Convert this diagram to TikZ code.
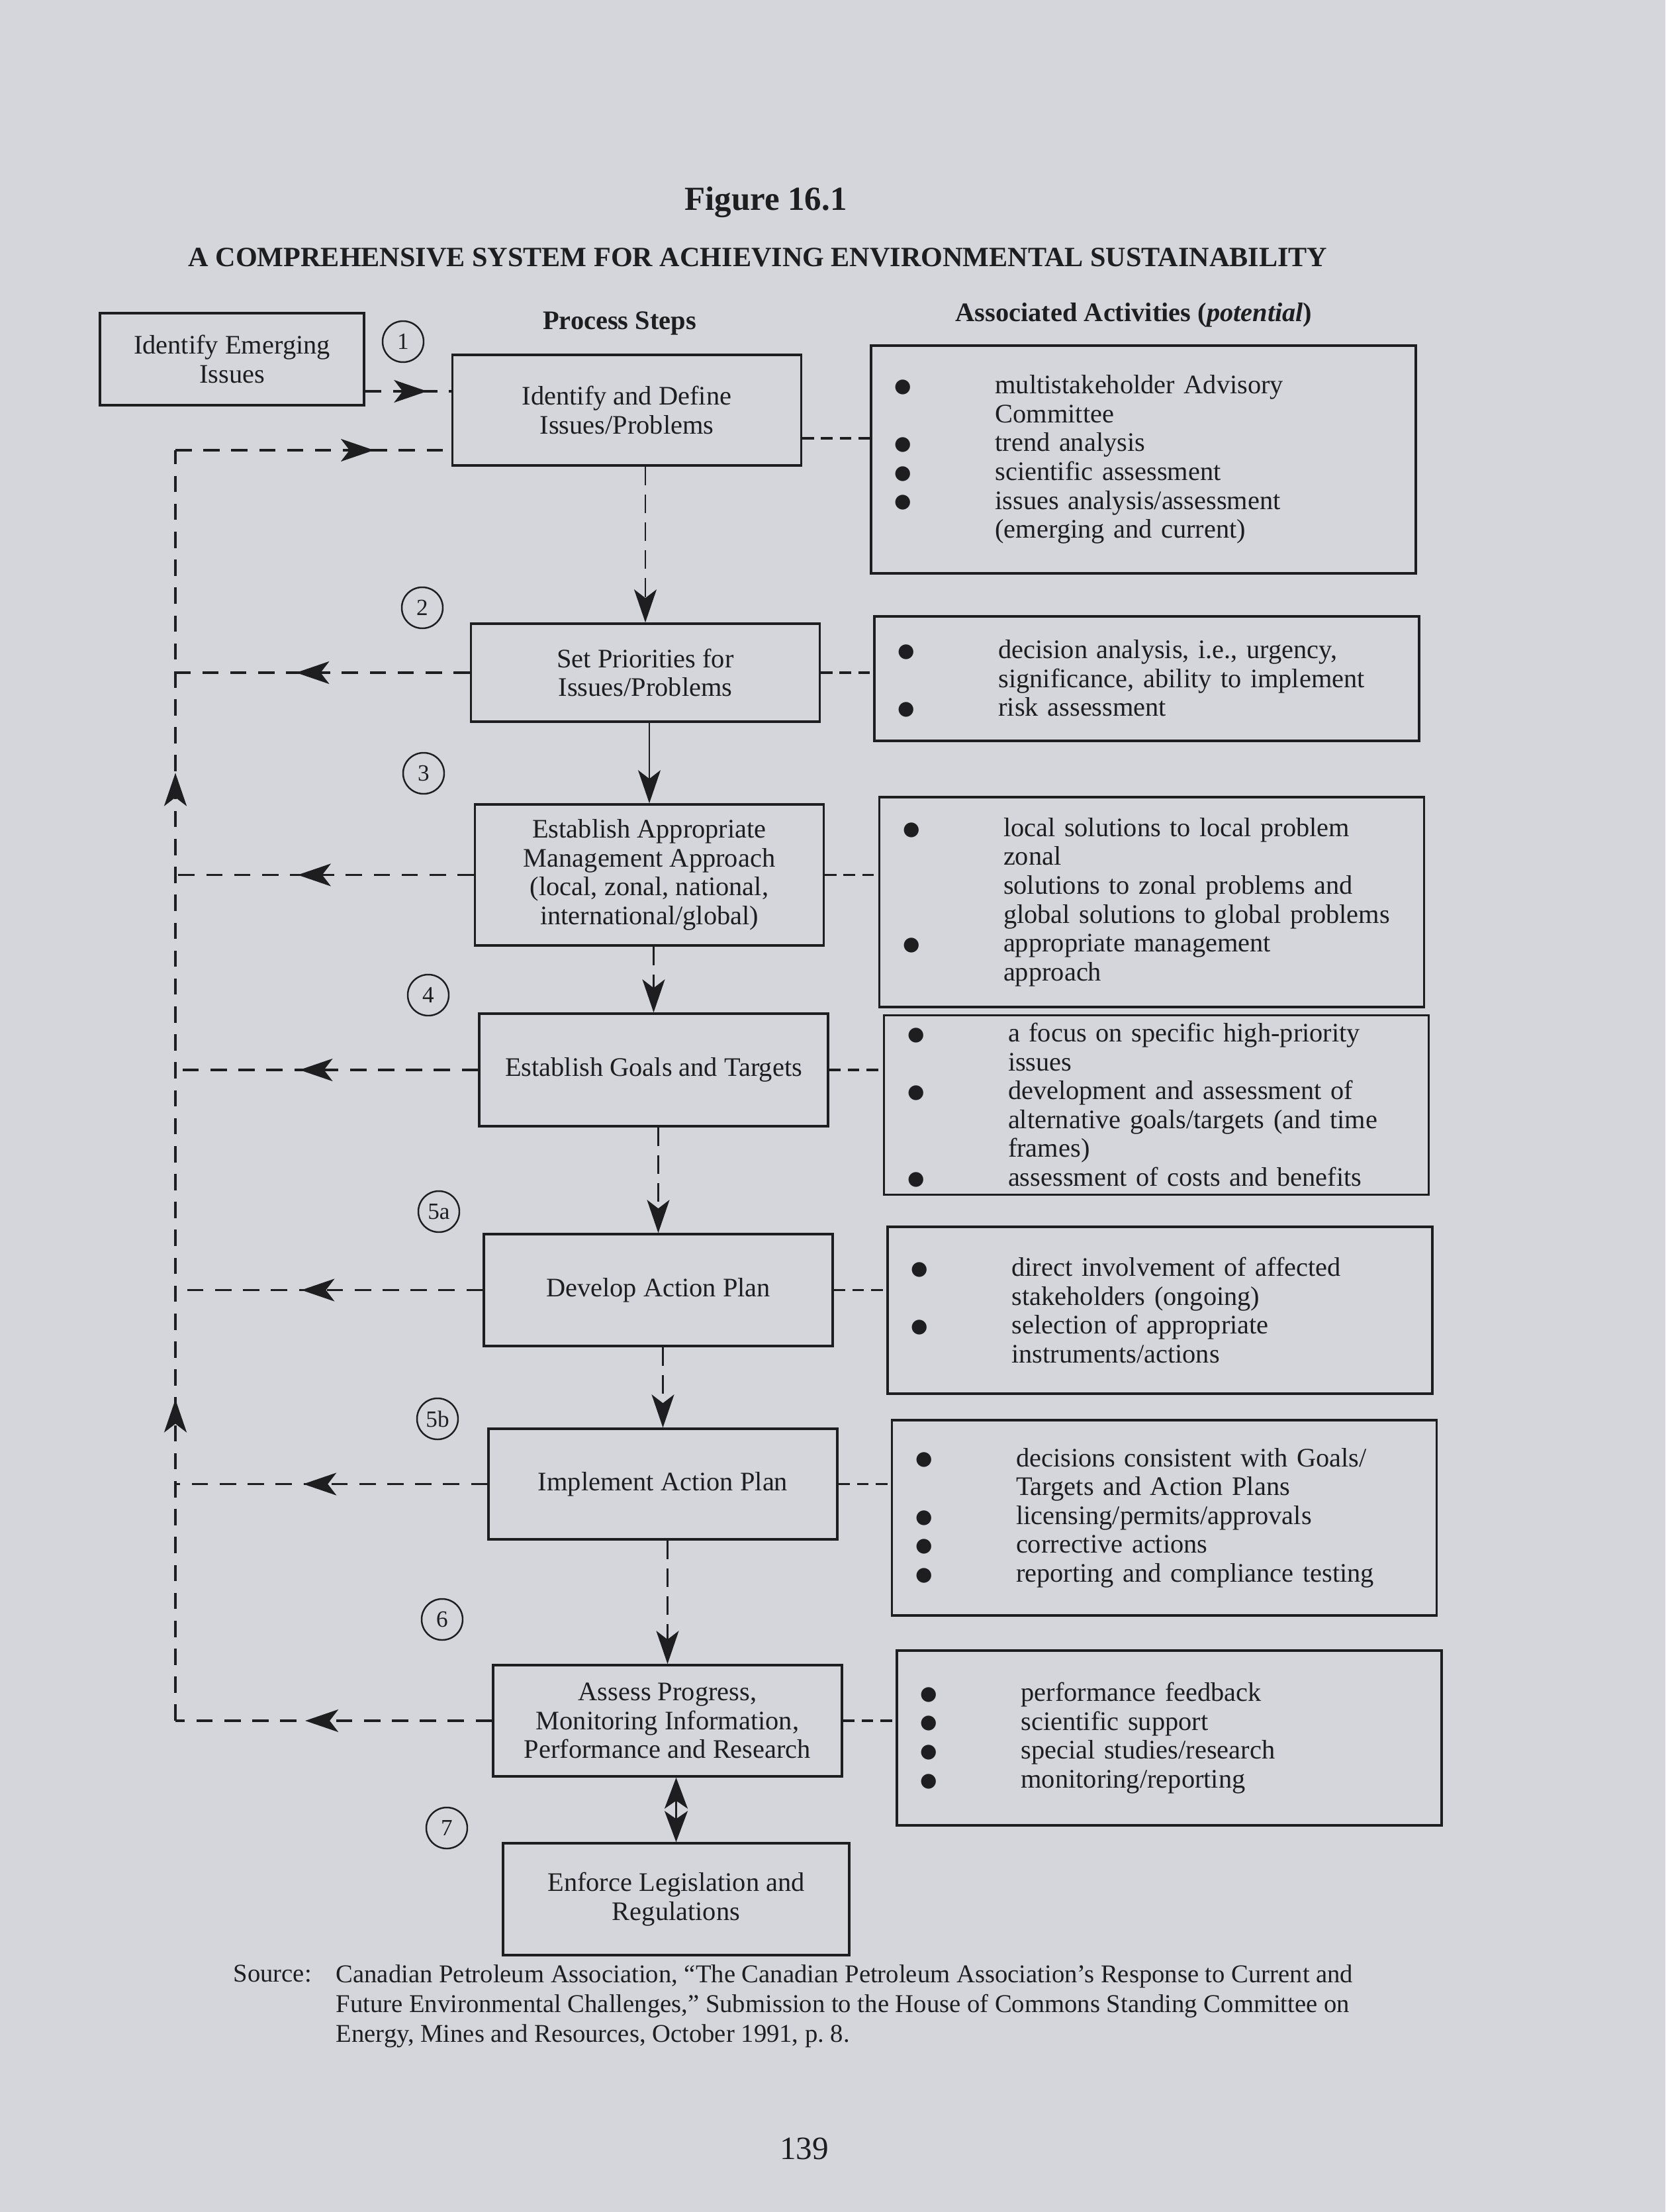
\documentclass[tikz,border=0pt]{standalone}
\usepackage{fontspec}
\setmainfont{Liberation Serif}
\newfontfamily\symfont{DejaVu Sans}
\usepackage{xcolor}
\usetikzlibrary{arrows.meta,positioning,decorations.markings}
\definecolor{page}{RGB}{213,214,220}
\definecolor{ink}{RGB}{30,30,32}
\newcommand{\actbul}{\makebox[1.52cm][l]{\raisebox{0.6pt}{\symfont\fontsize{8.3}{8}\selectfont ●}}}
\newcommand{\actind}{\hspace*{1.52cm}}
\tikzset{
  stepbox/.style={draw,line width=1pt,align=center,minimum width=5.27cm,font=\fontsize{11.5}{12.4}\selectfont},
  actbox/.style={draw,line width=1pt,align=left,text width=7.52cm,inner xsep=0.355cm,font=\fontsize{11.5}{12.4}\selectfont},
  num/.style={draw,circle,line width=0.7pt,minimum size=0.62cm,inner sep=0pt,font=\fontsize{10}{12}\selectfont},
  head/.style={font=\fontsize{11.5}{13}\selectfont\bfseries,anchor=base},
  fbtip/.tip={Stealth[length=5mm,width=3.4mm,inset=1.3mm]},
  flow/.style={line width=0.7pt,-fbtip},
  dflow/.style={flow,dash pattern=on 8pt off 4pt},
  dblarr/.style={line width=0.7pt,{Stealth[length=4.7mm,width=3.5mm,inset=1.2mm]}-{Stealth[length=4.7mm,width=3.5mm,inset=1.2mm]}},
  fb/.style={line width=1pt,dash pattern=on 7pt off 5pt},
  link/.style={line width=1pt,dash pattern=on 5pt off 3pt},
  midarr/.style={postaction={decorate,decoration={markings,mark=at position #1 with {\arrow{fbtip}}}}},
}
\begin{document}
\begin{tikzpicture}[color=ink]
\useasboundingbox (0,0) rectangle (25.16,-33.41);
\fill[page] (0,0) rectangle (25.16,-33.41);

\node[font=\fontsize{14.5}{17}\selectfont\bfseries,anchor=base] (fig) at (11.57,-3.18) {Figure 16.1};
\node[font=\fontsize{12}{14}\selectfont\bfseries,anchor=base] (sub) at (11.45,-4.03) {A COMPREHENSIVE SYSTEM FOR ACHIEVING ENVIRONMENTAL SUSTAINABILITY};
\node[head] (hproc) at (9.36,-4.98) {Process Steps};
\node[head] (hact) at (17.13,-4.86) {Associated Activities (\textit{potential})};

\node[stepbox,minimum width=3.99cm,minimum height=1.39cm] (emg) at (3.505,-5.425) {Identify Emerging\\Issues};
\node[stepbox,minimum height=1.67cm] (s1) at (9.47,-6.195) {Identify and Define\\Issues/Problems};
\node[stepbox,minimum height=1.48cm] (s2) at (9.75,-10.16) {Set Priorities for\\Issues/Problems};
\node[stepbox,minimum height=2.13cm] (s3) at (9.81,-13.215) {Establish Appropriate\\Management Approach\\(local, zonal, national,\\international/global)};
\node[stepbox,minimum height=1.70cm] (s4) at (9.875,-16.16) {Establish Goals and Targets};
\node[stepbox,minimum height=1.69cm] (s5) at (9.945,-19.485) {Develop Action Plan};
\node[stepbox,minimum height=1.67cm] (s6) at (10.015,-22.415) {Implement Action Plan};
\node[stepbox,minimum height=1.68cm] (s7) at (10.085,-25.99) {Assess Progress,\\Monitoring Information,\\Performance and Research};
\node[stepbox,minimum width=5.23cm,minimum height=1.69cm] (s8) at (10.215,-28.685) {Enforce Legislation and\\Regulations};

\node[actbox,minimum height=3.44cm] (a1) at (17.275,-6.94) {\actbul multistakeholder Advisory\\ \actind Committee\\ \actbul trend analysis\\ \actbul scientific assessment\\ \actbul issues analysis/assessment\\ \actind (emerging and current)};
\node[actbox,minimum height=1.88cm] (a2) at (17.325,-10.25) {\actbul decision analysis, i.e., urgency,\\ \actind significance, ability to implement\\ \actbul risk assessment};
\node[actbox,minimum height=3.17cm] (a3) at (17.40,-13.625) {\actbul local solutions to local problem\\ \actind zonal\\ \actind solutions to zonal problems and\\ \actind global solutions to global problems\\ \actbul appropriate management\\ \actind approach};
\node[actbox,minimum height=2.70cm] (a4) at (17.47,-16.69) {\actbul a focus on specific high-priority\\ \actind issues\\ \actbul development and assessment of\\ \actind alternative goals/targets (and time\\ \actind frames)\\ \actbul assessment of costs and benefits};
\node[actbox,minimum height=2.52cm] (a5) at (17.525,-19.79) {\actbul direct involvement of affected\\ \actind stakeholders (ongoing)\\ \actbul selection of appropriate\\ \actind instruments/actions};
\node[actbox,minimum height=2.95cm] (a6) at (17.59,-22.925) {\actbul decisions consistent with Goals/\\ \actind Targets and Action Plans\\ \actbul licensing/permits/approvals\\ \actbul corrective actions\\ \actbul reporting and compliance testing};
\node[actbox,minimum height=2.64cm] (a7) at (17.665,-26.25) {\actbul performance feedback\\ \actbul scientific support\\ \actbul special studies/research\\ \actbul monitoring/reporting};

\node[num] (n1) at (6.09,-5.16) {1};
\node[num] (n2) at (6.38,-9.18) {2};
\node[num] (n3) at (6.40,-11.68) {3};
\node[num] (n4) at (6.47,-15.03) {4};
\node[num] (n5a) at (6.63,-18.30) {5a};
\node[num] (n5b) at (6.61,-21.43) {5b};
\node[num] (n6) at (6.68,-24.46) {6};
\node[num] (n7) at (6.75,-27.61) {7};

\draw[dflow] (s1.south -| s2.north) -- (s2.north);
\draw[flow] (s2.south -| s3.north) -- (s3.north);
\draw[dflow] (s3.south -| s4.north) -- (s4.north);
\draw[dflow] (s4.south -| s5.north) -- (s5.north);
\draw[dflow] (s5.south -| s6.north) -- (s6.north);
\draw[dflow] (s6.south -| s7.north) -- (s7.north);
\draw[dblarr] (s7.south -| s8.north) -- (s8.north);

\coordinate (emgout) at ([yshift=-4.85mm]emg.east);
\coordinate (fbtop) at (2.65,-6.80);
\draw[fb,midarr=0.72] (emgout) -- (emgout -| s1.west);
\draw[fb,midarr=0.72] (fbtop) -- (fbtop -| s1.west);
\draw[fb,midarr=0.253,midarr=0.746] (fbtop |- s7.west) -- (fbtop);
\foreach \n in {2,...,7}
  \draw[fb,midarr=0.59] (s\n.west) -- (s\n.west -| fbtop);

\coordinate (s1out) at ([yshift=-4.25mm]s1.east);
\draw[link] (s1out) -- (s1out -| a1.west);
\foreach \n in {2,...,7}
  \draw[link] (s\n.east) -- (s\n.east -| a\n.west);

\node[anchor=north west,inner sep=0pt,font=\fontsize{11}{12.8}\selectfont] (srclbl) at (3.52,-29.67) {Source:};
\node[anchor=north west,inner sep=0pt,align=left,font=\fontsize{11}{12.8}\selectfont] (src) at (5.07,-29.67) {Canadian Petroleum Association, “The Canadian Petroleum Association’s Response to Current and\\Future Environmental Challenges,” Submission to the House of Commons Standing Committee on\\Energy, Mines and Resources, October 1991, p.~8.};
\node[font=\fontsize{14}{16}\selectfont,anchor=base] (pg) at (12.15,-32.61) {139};
\end{tikzpicture}
\end{document}
